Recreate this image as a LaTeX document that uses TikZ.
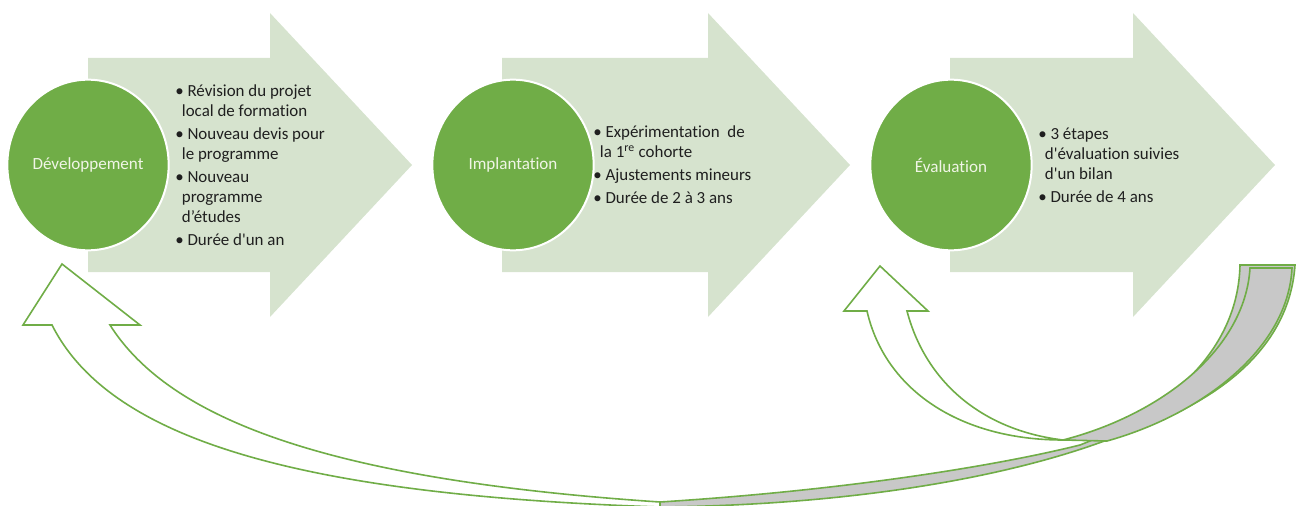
\documentclass[tikz,border=0pt]{standalone}
\usepackage{fontspec}
\setmainfont[Ligatures={TeX,NoCommon}]{Carlito}
\usepackage{tikz}
\usetikzlibrary{shapes.geometric}
\definecolor{vert}{RGB}{112,173,71}
\definecolor{fond}{RGB}{214,227,206}
\definecolor{creme}{RGB}{240,245,230}
\definecolor{gris}{RGB}{200,200,200}
\newcommand{\puce}{\textbullet\ }
\newcommand{\suite}{\hspace*{5pt}}

\begin{document}
\begin{tikzpicture}[x=0.75pt, y=-0.75pt,
    etape/.style={ellipse, fill=vert, draw=white, line width=1.5pt, minimum width=121pt, minimum height=128pt, inner sep=0pt, text=creme, font=\fontsize{12.8}{14}\selectfont},
    puces/.style={anchor=west, align=left, inner sep=0pt, text=black!88, font=\fontsize{12.7}{15}\selectfont},
    retour/.style={draw=vert, line width=1.2pt, line join=miter, fill=white},
    dos/.style={draw=vert, line width=1.2pt, line join=miter, fill=gris}]
    \useasboundingbox (0,0) rectangle (1296,506);
    \foreach \a/\b in {88/270, 502/708, 950/1133}
        \fill[fond] (\a,58) -- (\b,58) -- (\b,13) -- ({\b+142},165) -- (\b,317) -- (\b,272) -- (\a,272) -- cycle;
    \node[etape] (dev) at (88,165) {Développement};
    \node[etape] (imp) at (513,165) {Implantation};
    \node[etape] (eva) at (951,165) {Évaluation};
    \node[puces] (tdev) at (175,165) {\puce Révision du projet\\ \suite local de formation\\[2.3pt]
        \puce Nouveau devis pour\\ \suite le programme\\[2.3pt]
        \puce Nouveau\\ \suite programme\\ \suite d’études\\[2.3pt]
        \puce Durée d\textquotesingle un an};
    \node[puces] (timp) at (593,165) {\puce Expérimentation\ \ de\\ \suite la 1\textsuperscript{re} cohorte\\[2.3pt]
        \puce Ajustements mineurs\\[2.3pt]
        \puce Durée de 2 à 3 ans};
    \node[puces] (teva) at (1038,165) {\puce 3 étapes\\ \suite d\textquotesingle évaluation suivies\\ \suite d\textquotesingle un bilan\\[2.3pt]
        \puce Durée de 4 ans};
    \draw[retour] (660,502) .. controls (330,480) and (170,420) .. (110,325) -- (140,325) -- (62,264) -- (23,325) -- (52,325)
        .. controls (110,440) and (300,495) .. (660,507);
    \draw[dos] (660,502) .. controls (850,490) and (1000,465) .. (1080,445) .. controls (1170,410) and (1238,350) .. (1240,265)
        -- (1295,265) .. controls (1290,340) and (1230,400) .. (1120,435) .. controls (1020,475) and (860,505) .. (660,507) -- cycle;
    \draw[dos] (1063,440) .. controls (1160,415) and (1245,350) .. (1250,268) -- (1292,268)
        .. controls (1288,350) and (1200,415) .. (1107,441) -- cycle;
    \draw[retour] (1063,440) .. controls (980,430) and (925,380) .. (907,311) -- (928,311) -- (880,266) -- (844,311) -- (867,311)
        .. controls (885,390) and (960,440) .. (1063,440);
\end{tikzpicture}
\end{document}
